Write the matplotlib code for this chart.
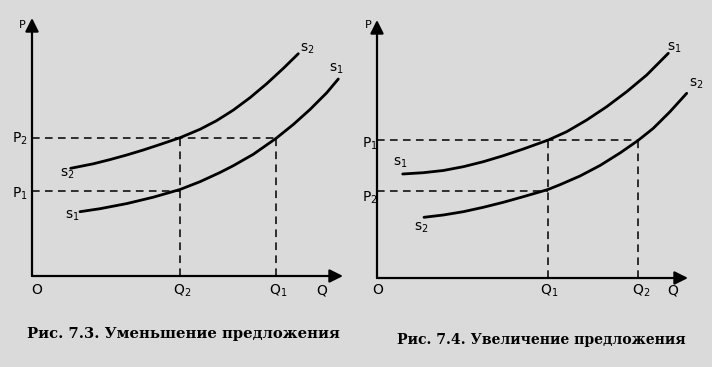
import numpy as np
from matplotlib import pyplot as plt

# --- Рис. 7.3 (decrease of supply), units: distance from origin ---
left_s1_q = [48, 68, 94.7, 121.3, 148, 168, 188, 201.3, 221.3, 244, 261.3, 278, 294.7, 306.3]
left_s1_p = [64.3, 67.3, 72.4, 78.8, 86.5, 94.3, 103.5, 110.3, 121.7, 137.6, 151.5, 166.5, 183.2, 197]
left_s2_q = [38.7, 61.3, 78, 94.7, 111.3, 128, 148, 168, 184.7, 201.3, 218, 234.7, 251.3, 266.3]
left_s2_p = [107.7, 112.2, 116.4, 121, 126, 131.5, 138.3, 146.7, 155.4, 165.9, 178.3, 192.3, 207.6, 222.3]
left_q = {'Q2': 148, 'Q1': 244}
left_p = {'P1': 85.5, 'P2': 138.3}

# --- Рис. 7.4 (increase of supply) ---
right_s1_q = [25.7, 46.3, 66.3, 86.3, 106.3, 126.3, 146.3, 171.3, 189.7, 209.7, 229.7, 249.7, 269.7, 291.3]
right_s1_p = [104, 105.3, 107.5, 111.3, 116.3, 122.3, 129, 138, 146.3, 158, 171.3, 186.3, 203, 224.7]
right_s2_q = [47, 66.3, 86.3, 106.3, 126.3, 146.3, 171, 183, 203, 223, 243, 261, 276.3, 293, 309.7]
right_s2_p = [60.7, 63, 66.3, 70.7, 75.7, 81.3, 88.5, 93.3, 102, 112.5, 125, 137.5, 149.7, 166.3, 184.7]
right_q = {'Q1': 171, 'Q2': 261}
right_p = {'P1': 138, 'P2': 87}

captions = ['Рис. 7.3. Уменьшение предложения', 'Рис. 7.4. Увеличение предложения']

bg = '#dadada'
W, H = 712, 367
fig = plt.figure(figsize=(W / 100, H / 100), dpi=100, facecolor=bg)
plt.rcParams['mathtext.fontset'] = 'dejavusans'


def panel(x0, y0, s1q, s1p, s2q, s2p, qs, ps, dashes, labels):
    ax = fig.add_axes([x0 / W, (H - y0) / H, 311 / W, 258 / H])
    ax.set_xlim(0, 311)
    ax.set_ylim(0, 258)
    ax.axis('off')
    arr = dict(arrowstyle='-|>', lw=1.6, color='k', mutation_scale=20, shrinkA=0, shrinkB=0)
    ax.annotate('', xy=(1, 0), xytext=(0, 0), xycoords='axes fraction', arrowprops=arr)
    ax.annotate('', xy=(0, 1), xytext=(0, 0), xycoords='axes fraction', arrowprops=arr)
    for q, p in [(s1q, s1p), (s2q, s2p)]:
        ax.plot(q, p, color='k', lw=2.0, solid_capstyle='round',
                solid_joinstyle='round', clip_on=False)
    for (q, p_top) in dashes['v']:
        ax.plot([qs[q], qs[q]], [0, ps[p_top]], color='k', lw=1.1, ls=(0, (5, 3.5)))
    for (p, q_end) in dashes['h']:
        ax.plot([0, qs[q_end]], [ps[p], ps[p]], color='k', lw=1.1, ls=(0, (5, 3.5)))
    for txt, x, y, fs in labels:
        ax.text(x, y, txt, ha='center', va='center', fontsize=fs, clip_on=False,
                family='DejaVu Sans')
    return ax


panel(32, 276, left_s1_q, left_s1_p, left_s2_q, left_s2_p, left_q, left_p,
      {'v': [('Q2', 'P2'), ('Q1', 'P2')], 'h': [('P2', 'Q1'), ('P1', 'Q2')]},
      [('P', -10, 251, 8), ('O', 5, -14, 10), ('Q$_2$', 150, -15, 10),
       ('Q$_1$', 246, -15, 10), ('Q', 290, -14, 10),
       ('P$_2$', -12, 137, 10), ('P$_1$', -12, 82, 10),
       ('s$_2$', 275, 227, 10), ('s$_1$', 304, 207, 10),
       ('s$_2$', 35, 102, 10), ('s$_1$', 40, 60, 10)])

panel(377, 278, right_s1_q, right_s1_p, right_s2_q, right_s2_p, right_q, right_p,
      {'v': [('Q1', 'P1'), ('Q2', 'P1')], 'h': [('P1', 'Q2'), ('P2', 'Q1')]},
      [('P', -9, 253, 8), ('O', 1, -12, 10), ('Q$_1$', 172, -13, 10),
       ('Q$_2$', 264, -13, 10), ('Q', 296, -12, 10),
       ('P$_1$', -7, 134, 10), ('P$_2$', -7, 80, 10),
       ('s$_1$', 297, 230, 10), ('s$_2$', 319, 194, 10),
       ('s$_1$', 23, 115, 10), ('s$_2$', 44, 50, 10)])

fig.text(183 / W, 1 - 334 / H, captions[0], ha='center', va='center',
         fontsize=10.6, fontweight='bold', family='DejaVu Serif')
fig.text(541 / W, 1 - 340 / H, captions[1], ha='center', va='center',
         fontsize=10.1, fontweight='bold', family='DejaVu Serif')

fig.savefig('out.png', dpi=100, facecolor=bg)
